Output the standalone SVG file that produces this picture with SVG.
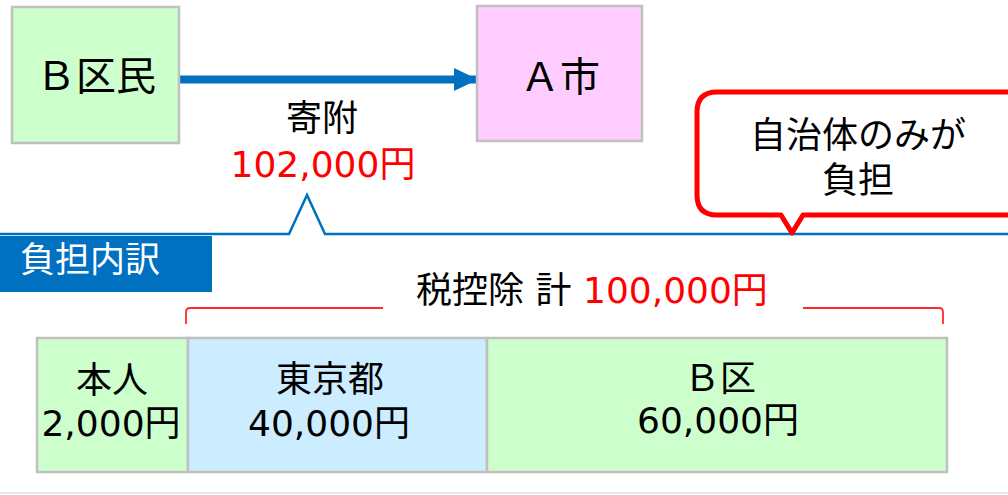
<svg xmlns="http://www.w3.org/2000/svg" width="1008" height="495" viewBox="0 0 1008 495">
<style>
text{font-family:"DejaVu Sans","Noto Sans CJK JP",sans-serif;font-size:36px;fill:#000;text-anchor:middle}
.big{font-size:40px}
.red{fill:#FF0000}
.wh{fill:#fff;text-anchor:start}
.box{stroke:#C0C0C0;stroke-width:2.5}
.g{fill:#CCFFCC}.p{fill:#FFCCFF}.b{fill:#CCECFF}
</style>
<defs>
<marker id="ah" markerWidth="24" markerHeight="23" refX="24" refY="11.5" orient="auto" markerUnits="userSpaceOnUse">
<path d="M0,0 L24,11.5 L0,23 Z" fill="#0070C0"/>
</marker>
</defs>
<rect width="1008" height="495" fill="#fff"/>
<line x1="0" y1="493" x2="1008" y2="493" stroke="#DCE9F6" stroke-width="2"/>

<g id="connectors">
<line x1="180" y1="79.5" x2="478" y2="79.5" stroke="#0070C0" stroke-width="8" marker-end="url(#ah)"/>
<path d="M0,234 H289 L307,195 L325,234 H1008" fill="none" stroke="#0070C0" stroke-width="2.5"/>
<path d="M186,324 V312 Q186,308 190,308 H383 M803,308 H939 Q943,308 943,312 V324" fill="none" stroke="#FF2A2A" stroke-width="1.8"/>
</g>

<g id="node-bkumin">
<rect class="box g" x="12" y="7" width="167" height="136"/>
<text class="big" x="96" y="90">Ｂ区民</text>
</g>
<g id="node-ashi">
<rect class="box p" x="477" y="6" width="165" height="135"/>
<text class="big" x="560" y="91">Ａ市</text>
</g>
<g id="label-kifu">
<text x="322" y="131">寄附</text>
<text class="red" x="323" y="177">102,000円</text>
</g>
<g id="callout">
<path d="M717,92 H1030 V215 H803 L792,233 L781,215 H717 Q697,215 697,195 V112 Q697,92 717,92 Z" fill="#fff" stroke="#FF0000" stroke-width="5" stroke-linejoin="round"/>
<text x="858" y="148">自治体のみが</text>
<text x="858" y="193">負担</text>
</g>
<g id="label-futan">
<rect x="0" y="236" width="212" height="56" fill="#0070C0"/>
<text class="wh" x="20" y="272" style="font-size:35px">負担内訳</text>
</g>
<g id="label-total">
<text x="592" y="303">税控除 計 <tspan class="red">100,000円</tspan></text>
</g>
<g id="node-honnin">
<rect class="box g" x="37" y="338" width="151" height="134"/>
<text x="112" y="393">本人</text>
<text x="111" y="436">2,000円</text>
</g>
<g id="node-tokyo">
<rect class="box b" x="188" y="338" width="299" height="134"/>
<text x="330" y="392">東京都</text>
<text x="329" y="436">40,000円</text>
</g>
<g id="node-bku">
<rect class="box g" x="487" y="338" width="460" height="134"/>
<text x="720" y="391">Ｂ区</text>
<text x="718" y="433">60,000円</text>
</g>
</svg>
